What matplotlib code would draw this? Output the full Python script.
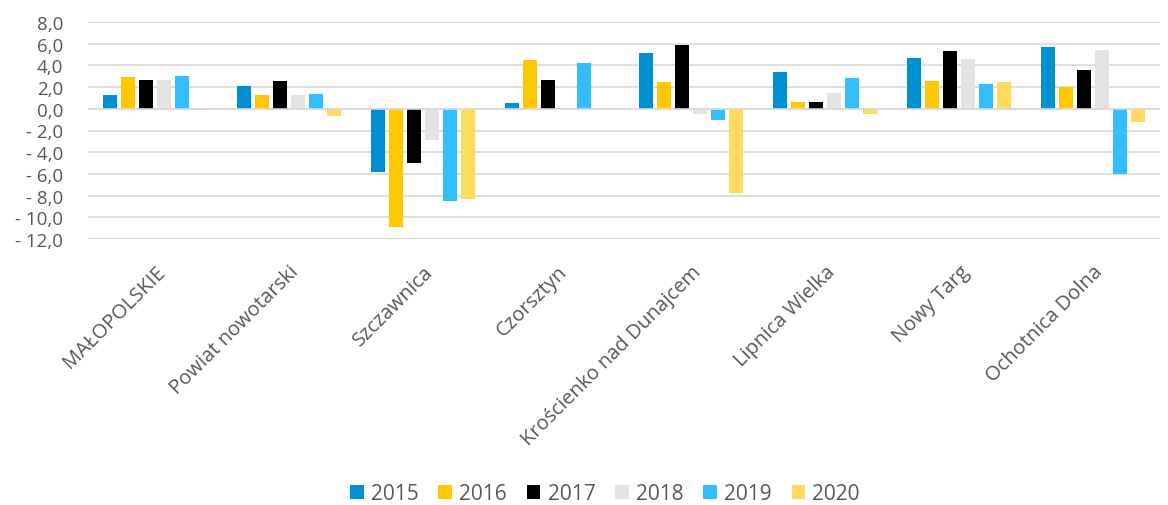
import numpy as np
import matplotlib
matplotlib.use("Agg")
import matplotlib.pyplot as plt

plt.rcParams['font.family'] = ['Open Sans', 'DejaVu Sans']

categories = ["MAŁOPOLSKIE", "Powiat nowotarski", "Szczawnica", "Czorsztyn",
              "Krościenko nad Dunajcem", "Lipnica Wielka", "Nowy Targ", "Ochotnica Dolna"]
years = ["2015", "2016", "2017", "2018", "2019", "2020"]

v2015 = [1.3, 2.1, -5.85, 0.5, 5.1, 3.4, 4.7, 5.7]
v2016 = [2.9, 1.25, -10.85, 4.5, 2.5, 0.67, 2.6, 2.0]
v2017 = [2.7, 2.6, -5.0, 2.7, 5.9, 0.65, 5.3, 3.6]
v2018 = [2.7, 1.25, -2.9, -0.05, -0.5, 1.43, 4.6, 5.4]
v2019 = [3.0, 1.4, -8.5, 4.2, -1.05, 2.8, 2.27, -6.0]
v2020 = [-0.1, -0.7, -8.3, 0.1, -7.8, -0.5, 2.5, -1.2]
series = [v2015, v2016, v2017, v2018, v2019, v2020]

colors = ["#0091D5", "#FFC800", "#000000", "#E3E3E3", "#33BEFF", "#FFDA5C"]

fig = plt.figure(figsize=(11.68, 5.06), dpi=100)
ax = fig.add_axes([88 / 1168, 1 - 240 / 506, (1160 - 88) / 1168, (240 - 23) / 506])

x = np.arange(len(categories))
slot = 0.134
width = 0.105
for i, (vals, col) in enumerate(zip(series, colors)):
    ax.bar(x + (i - 2.5) * slot, vals, width, color=col, label=years[i], zorder=3)

ax.set_xlim(-0.5, len(categories) - 0.5)
ax.set_ylim(-12, 8)
ax.set_yticks(np.arange(-12, 9, 2))


def fmt(v):
    s = f"{abs(v):.1f}".replace(".", ",")
    return f"- {s}" if v < 0 else s


ax.set_yticklabels([fmt(v) for v in np.arange(-12, 9, 2)])
ax.grid(axis='y', color='#D9D9D9', linewidth=1.2, zorder=0)
ax.axhline(0, color='#D9D9D9', linewidth=1.2, zorder=4)

for s in ax.spines.values():
    s.set_visible(False)
ax.tick_params(axis='both', length=0, colors='#595959')
ax.tick_params(axis='y', pad=18, labelsize=13.5)

ax.set_xticks(x)
ax.set_xticklabels(categories, rotation=45, ha='right', rotation_mode='anchor', fontsize=14.5)
ax.tick_params(axis='x', pad=16)

fig.legend(*ax.get_legend_handles_labels(), loc='center', bbox_to_anchor=(605 / 1168, 1 - 495 / 506),
           ncol=6, frameon=False, fontsize=15, labelcolor='#595959',
           handlelength=0.65, handleheight=0.65, handletextpad=0.35, columnspacing=0.95)

fig.savefig("out.png", dpi=100)
